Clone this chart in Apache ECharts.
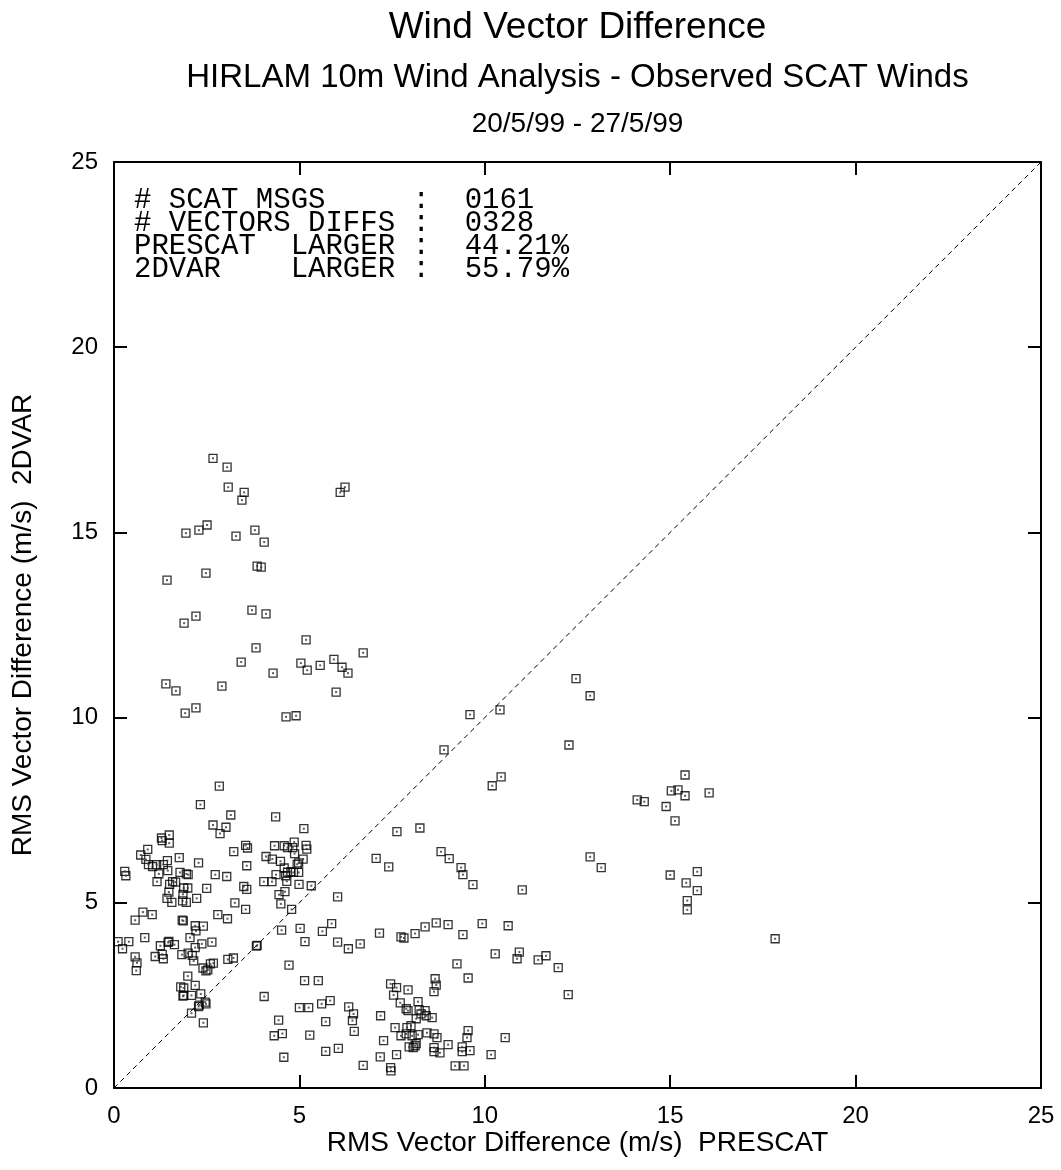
<!DOCTYPE html>
<html>
<head>
<meta charset="utf-8">
<script src="https://cdn.jsdelivr.net/npm/echarts@6/dist/echarts.min.js"></script>
<style>
html,body{margin:0;padding:0;background:#fff;}
#chart{width:1061px;height:1170px;}
</style>
</head>
<body>
<div id="chart"></div>
<script>
// ---- Data (x = PRESCAT RMS vector difference, y = 2DVAR RMS vector difference, m/s) ----
const titleText = 'Wind Vector Difference';
const subtitleText = 'HIRLAM 10m Wind Analysis - Observed SCAT Winds';
const dateText = '20/5/99 - 27/5/99';
const xAxisTitle = 'RMS Vector Difference (m/s)  PRESCAT';
const yAxisTitle = 'RMS Vector Difference (m/s)  2DVAR';
const statsLines = [
  '# SCAT MSGS     :  0161',
  '# VECTORS DIFFS :  0328',
  'PRESCAT  LARGER :  44.21%',
  '2DVAR    LARGER :  55.79%'
];
const axisTicks = [0, 5, 10, 15, 20, 25];
const diagonal = [[0, 0], [25, 25]];

const pointsUpperLeft = [
  [2.67,17.0],[3.05,16.76],[3.08,16.22],[3.51,16.08],[3.45,15.87],[6.23,16.22],[6.1,16.08],
  [1.94,14.98],[2.29,15.06],[2.51,15.2],[3.29,14.9],[3.8,15.06],[4.05,14.74],[3.86,14.09],[3.97,14.06],
  [1.43,13.71],[2.48,13.9],[3.72,12.9],[4.1,12.8],[2.21,12.74],[1.89,12.55],[5.18,12.1],[3.83,11.88],
  [3.43,11.5],[4.29,11.2],[5.04,11.47],[5.21,11.28],[5.56,11.41],[5.93,11.57],[6.15,11.36],[6.31,11.2],
  [6.72,11.75],[5.99,10.69],[1.4,10.91],[1.67,10.72],[2.91,10.85],[1.92,10.12],[2.21,10.26],[4.64,10.02],[4.91,10.05]
];
const pointsLeftMiddle = [
  [2.84,8.15],[2.33,7.65],[3.15,7.37],[4.36,7.32],[2.67,7.1],[3.02,7.04],[2.86,6.87],[5.12,7.0],
  [1.28,6.75],[1.49,6.83],[1.3,6.68],[1.49,6.61],[0.91,6.44],[0.72,6.29],[0.86,6.17],[0.93,6.03],
  [1.04,5.98],[1.15,6.03],[1.33,6.03],[1.44,6.14],[1.45,5.87],[1.21,5.78],[1.16,5.57],[1.76,6.22],
  [2.28,6.08],[3.23,6.38],[3.55,6.55],[3.6,6.48],[3.58,6.0],[2.73,5.76],[3.04,5.71],[1.78,5.82],
  [2.0,5.76],[1.95,5.78],[1.58,5.57],[1.66,5.56],[1.5,5.5],[1.48,5.29],[1.88,5.4],[1.99,5.4],
  [1.86,5.23],[1.43,5.12],[1.56,5.01],[1.85,5.05],[1.95,5.01],[2.23,5.12],[2.5,5.39],[3.5,5.44],
  [3.58,5.36],[3.26,5.0],[3.55,4.82],[2.8,4.68],[3.06,4.57],[1.84,4.53],[1.87,4.51],[2.19,4.38],
  [2.41,4.37],[2.21,4.24],[2.05,4.06],[2.64,3.94],[2.37,3.89],[2.19,3.79],[1.48,3.96],[1.46,3.93],
  [1.63,3.87],[1.25,3.84],[0.83,4.06],[0.57,4.53],[0.78,4.75],[1.03,4.68],[0.11,3.95],[0.4,3.95],
  [0.23,3.76],[0.29,5.85],[0.32,5.73],[0.57,3.54],[0.62,3.38],[0.6,3.17],[1.11,3.55],[1.3,3.61],
  [1.33,3.49],[1.83,3.6],[2.0,3.64],[2.11,3.58],[2.15,3.43],[2.4,3.24],[2.48,3.16],[2.53,3.19],
  [2.6,3.35],[2.68,3.37],[3.07,3.47],[3.22,3.51],[3.84,3.83],[3.86,3.85],[1.99,3.02],[1.8,2.73],
  [1.88,2.7],[1.86,2.48],[1.88,2.5],[2.09,2.5],[2.19,2.77],[2.34,2.54],[2.46,2.32],[2.48,2.27],
  [2.28,2.2],[2.3,2.24],[2.09,2.02],[2.41,1.76]
];
const pointsCentreCluster = [
  [4.33,6.54],[4.59,6.54],[4.68,6.49],[4.86,6.64],[4.82,6.49],[4.87,6.33],[5.18,6.55],[5.2,6.45],
  [4.1,6.25],[4.27,6.18],[4.49,6.12],[5.1,6.18],[4.98,6.08],[4.94,6.04],[4.59,5.94],[4.37,5.76],
  [4.68,5.82],[4.77,5.84],[4.84,5.82],[4.98,5.82],[4.63,5.73],[4.04,5.57],[4.26,5.57],[4.66,5.58],
  [4.99,5.5],[5.32,5.46],[4.45,5.22],[4.61,5.3],[4.5,4.97],[4.79,4.82],
  [7.07,6.2],[7.41,5.97],[6.03,5.16],[7.63,6.92]
];
const pointsLowerMiddle = [
  [4.52,4.26],[5.02,4.31],[5.15,3.95],[5.87,4.44],[5.62,4.23],[6.03,3.94],[6.32,3.76],[6.64,3.89],
  [7.16,4.18],[4.72,3.32],[5.14,2.9],[5.51,2.9],[4.05,2.47],[5.0,2.17],[5.25,2.17],[5.6,2.27],
  [5.83,2.36],[6.33,2.19],[6.46,2.0],[6.43,1.82],[6.48,1.53],[7.19,1.95],[4.44,1.83],[5.71,1.79],
  [5.28,1.43],[4.54,1.47],[4.32,1.41],[4.58,0.83],[5.71,0.99],[6.05,1.07],[6.72,0.61],[7.18,0.84],
  [7.27,1.28],[7.46,0.55],[7.47,0.46],[7.62,0.9],[7.58,1.63],[7.46,2.81],[7.62,2.71],[7.54,2.51]
];
const pointsRightMiddle = [
  [12.46,11.05],[12.84,10.59],[9.6,10.08],[10.41,10.21],[8.9,9.13],[12.27,9.26],[10.44,8.4],[10.2,8.16],
  [8.25,7.02],[8.82,6.38],[9.04,6.19],[9.36,5.95],[9.41,5.76],[9.68,5.49],[11.01,5.35],[12.84,6.24],
  [13.14,5.95],[7.74,4.08],[7.82,4.05],[8.12,4.17],[8.39,4.35],[8.69,4.46],[9.01,4.41],[9.41,4.14],
  [9.93,4.44],[10.63,4.38],[10.28,3.62],[10.93,3.67],[10.87,3.49],[11.44,3.46],[11.65,3.57],[11.98,3.25],
  [9.25,3.35],[9.55,2.97],[12.25,2.52]
];
const pointsLowerRight = [
  [7.93,2.65],[8.66,2.95],[8.69,2.78],[8.63,2.6],[8.2,2.33],[7.72,2.3],[7.88,2.14],[7.93,2.09],
  [8.23,2.11],[8.39,2.09],[8.28,2.0],[8.42,1.95],[8.58,1.9],[8.15,1.87],[7.9,1.63],[8.01,1.68],
  [7.74,1.41],[7.88,1.46],[8.04,1.41],[8.2,1.44],[8.44,1.49],[8.63,1.46],[8.71,1.36],[9.55,1.55],
  [9.52,1.36],[10.55,1.36],[8.15,1.2],[7.96,1.11],[8.07,1.09],[8.12,1.14],[9.01,1.17],[9.39,1.11],
  [9.39,0.98],[9.6,1.01],[8.63,1.09],[8.63,0.98],[8.79,0.95],[10.17,0.9],[9.2,0.6],[9.44,0.6]
];
const pointsFarRight = [
  [15.4,8.45],[15.03,8.02],[15.21,8.05],[15.4,7.89],[16.05,7.97],[14.11,7.78],[14.3,7.73],[14.89,7.6],
  [15.13,7.21],[15.0,5.75],[15.73,5.84],[15.43,5.54],[15.73,5.33],[15.46,5.06],[15.46,4.81],[17.83,4.03]
];

const allPoints = [].concat(pointsUpperLeft, pointsLeftMiddle, pointsCentreCluster,
  pointsLowerMiddle, pointsRightMiddle, pointsLowerRight, pointsFarRight);

// ---- Chart ----
const chart = echarts.init(document.getElementById('chart'), null, {renderer: 'canvas'});
const SANS = '"Liberation Sans", Arial, Helvetica, sans-serif';
const GRID = {left: 114, right: 20, top: 162, bottom: 82};
const plotCx = GRID.left + (1061 - GRID.left - GRID.right) / 2;
const plotCy = GRID.top + (1170 - GRID.top - GRID.bottom) / 2;

function baseAxis(extra) {
  return Object.assign({
    type: 'value', min: 0, max: 25, interval: 5,
    axisLine: {show: true, onZero: false, lineStyle: {color: '#000', width: 2}},
    axisTick: {show: true, inside: true, length: 13, lineStyle: {color: '#000', width: 2}},
    splitLine: {show: false},
    axisLabel: {show: false}
  }, extra);
}

chart.setOption({
  animation: false,
  backgroundColor: '#fff',
  grid: GRID,
  graphic: [
    {type: 'text', x: plotCx, y: 28, style: {text: titleText, font: '37px ' + SANS, fill: '#000', textAlign: 'center', textVerticalAlign: 'middle'}},
    {type: 'text', x: plotCx, y: 78, style: {text: subtitleText, font: '33px ' + SANS, fill: '#000', textAlign: 'center', textVerticalAlign: 'middle'}},
    {type: 'text', x: plotCx, y: 124, style: {text: dateText, font: '28px ' + SANS, fill: '#000', textAlign: 'center', textVerticalAlign: 'middle'}},
    {type: 'text', x: 134, y: 189, z: 10, style: {text: statsLines.join('\n'), font: '29px "Liberation Mono", "Courier New", monospace', lineHeight: 23, fill: '#000', textAlign: 'left', textVerticalAlign: 'top'}},
    {type: 'text', x: plotCx, y: 1143, style: {text: xAxisTitle, font: '28px ' + SANS, fill: '#000', textAlign: 'center', textVerticalAlign: 'middle'}},
    {type: 'text', x: 23, y: plotCy, rotation: Math.PI / 2, style: {text: yAxisTitle, font: '28px ' + SANS, fill: '#000', textAlign: 'center', textVerticalAlign: 'middle'}}
  ],
  xAxis: [
    baseAxis({position: 'bottom', axisLabel: {show: true, color: '#000', fontSize: 24, fontFamily: SANS, margin: 16,
      formatter: v => axisTicks.indexOf(v) >= 0 ? String(v) : ''}}),
    baseAxis({position: 'top'})
  ],
  yAxis: [
    baseAxis({position: 'left', axisLabel: {show: true, color: '#000', fontSize: 24, fontFamily: SANS, margin: 16,
      formatter: v => axisTicks.indexOf(v) >= 0 ? String(v) : ''}}),
    baseAxis({position: 'right'})
  ],
  series: [
    {
      type: 'line', data: diagonal, xAxisIndex: 0, yAxisIndex: 0,
      showSymbol: false, silent: true, z: 1,
      lineStyle: {color: '#000', width: 1, type: [5, 4]}
    },
    {
      type: 'scatter', data: allPoints, xAxisIndex: 0, yAxisIndex: 0,
      symbol: 'rect', symbolSize: 8, silent: true, z: 2,
      itemStyle: {color: 'rgba(255,255,255,0)', borderColor: '#000', borderWidth: 1.3}
    },
    {
      type: 'scatter', data: allPoints, xAxisIndex: 0, yAxisIndex: 0,
      symbol: 'rect', symbolSize: 2, silent: true, z: 3,
      itemStyle: {color: '#333'}
    }
  ]
});
</script>
</body>
</html>
